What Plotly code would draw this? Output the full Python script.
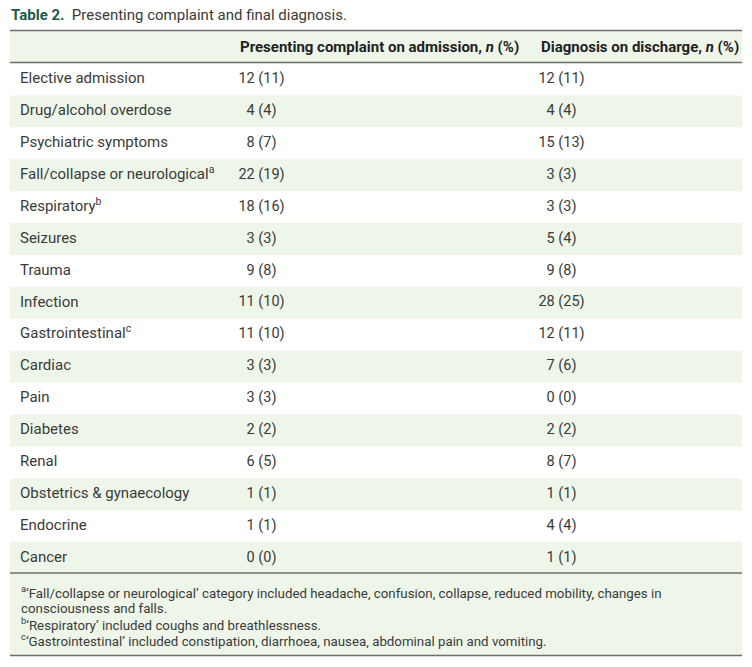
import plotly.graph_objects as go

categories = ["Elective admission", "Drug/alcohol overdose", "Psychiatric symptoms",
              "Fall/collapse or neurological<sup>a</sup>", "Respiratory<sup>b</sup>", "Seizures",
              "Trauma", "Infection", "Gastrointestinal<sup>c</sup>", "Cardiac", "Pain",
              "Diabetes", "Renal", "Obstetrics & gynaecology", "Endocrine", "Cancer"]
admission_n = [12, 4, 8, 22, 18, 3, 9, 11, 11, 3, 3, 2, 6, 1, 1, 0]
admission_pct = [11, 4, 7, 19, 16, 3, 8, 10, 10, 3, 3, 2, 5, 1, 1, 0]
discharge_n = [12, 4, 15, 3, 3, 5, 9, 28, 12, 7, 0, 2, 8, 1, 4, 1]
discharge_pct = [11, 4, 13, 3, 3, 4, 8, 25, 11, 6, 0, 2, 7, 1, 4, 1]
headers = ["Presenting complaint on admission, <i>n</i> (%)", "Diagnosis on discharge, <i>n</i> (%)"]
title_bold = "Table 2."
title_text = "Presenting complaint and final diagnosis."
footnotes = [
    "<sup>a</sup>‘Fall/collapse or neurological’ category included headache, confusion, collapse, reduced mobility, changes in",
    "consciousness and falls.",
    "<sup>b</sup>‘Respiratory’ included coughs and breathlessness.",
    "<sup>c</sup>‘Gastrointestinal’ included constipation, diarrhoea, nausea, abdominal pain and vomiting.",
]

W, H = 752, 667
OFF = 8          # page body margin offset
ROW0 = 79.5 - OFF    # pixel centre of first row (figure coords)
ROWH = 31.9
FONT = "Roboto"
TXT = "#3a3a3a"
GREEN_BG = "#eef6ea"
LINE = "#6e6e6e"
TITLE_GREEN = "#1d5c45"
X0, X1 = 10 - OFF, 742 - OFF


def py(p):
    """screen pixel y -> row units"""
    return (p - OFF - ROW0) / ROWH


def px(p):
    return p - OFF


rows = list(range(len(categories)))
fig = go.Figure()

shapes = []
shapes.append(dict(type="rect", xref="x", yref="y", x0=X0, x1=X1, y0=py(31), y1=py(62.5),
                   fillcolor=GREEN_BG, line_width=0, layer="below"))
for i in rows:
    if i % 2 == 1:
        shapes.append(dict(type="rect", xref="x", yref="y", x0=X0, x1=X1, y0=i - 0.5, y1=i + 0.5,
                           fillcolor=GREEN_BG, line_width=0, layer="below"))
shapes.append(dict(type="rect", xref="x", yref="y", x0=X0, x1=X1, y0=py(573), y1=py(655.5),
                   fillcolor=GREEN_BG, line_width=0, layer="below"))
for p in [30.5, 62.5, 573, 655.5]:
    shapes.append(dict(type="line", xref="x", yref="y", x0=X0, x1=X1, y0=py(p), y1=py(p),
                       line=dict(color=LINE, width=1.6)))

fig.add_trace(go.Scatter(x=[px(20)] * len(rows), y=rows, mode="text", text=categories,
                         textposition="middle right", textfont=dict(family=FONT, size=15, color=TXT),
                         hoverinfo="skip", showlegend=False))
fig.add_trace(go.Scatter(x=[px(261.5)] * len(rows), y=rows, mode="text",
                         text=[f"{n} ({p})" for n, p in zip(admission_n, admission_pct)],
                         textposition="middle center", textfont=dict(family=FONT, size=14.5, color=TXT),
                         hoverinfo="skip", showlegend=False))
fig.add_trace(go.Scatter(x=[px(561.5)] * len(rows), y=rows, mode="text",
                         text=[f"{n} ({p})" for n, p in zip(discharge_n, discharge_pct)],
                         textposition="middle center", textfont=dict(family=FONT, size=14.5, color=TXT),
                         hoverinfo="skip", showlegend=False))

annotations = []
annotations.append(dict(x=px(9), y=py(15), xref="x", yref="y", xanchor="left", yanchor="middle",
                        text=f"<b><span style='color:{TITLE_GREEN}'>{title_bold}</span></b>  {title_text}",
                        showarrow=False, font=dict(family=FONT, size=15, color=TXT)))
for xh, h in zip([238, 539], headers):
    annotations.append(dict(x=px(xh), y=py(46.5), xref="x", yref="y", xanchor="left", yanchor="middle",
                            text=f"<b>{h}</b>", showarrow=False,
                            font=dict(family=FONT, size=15, color="#222222")))
for p, t in zip([592, 608, 624, 640], footnotes):
    annotations.append(dict(x=px(19), y=py(p), xref="x", yref="y", xanchor="left", yanchor="middle",
                            text=t, showarrow=False, font=dict(family=FONT, size=13.3, color=TXT)))

fig.update_layout(
    width=W, height=H, margin=dict(l=0, r=0, t=0, b=0),
    paper_bgcolor="white", plot_bgcolor="white",
    xaxis=dict(range=[0, W], visible=False, fixedrange=True),
    yaxis=dict(range=[py(H + OFF), py(OFF)], visible=False, fixedrange=True),
    shapes=shapes, annotations=annotations,
)
fig.write_html("out.html")
